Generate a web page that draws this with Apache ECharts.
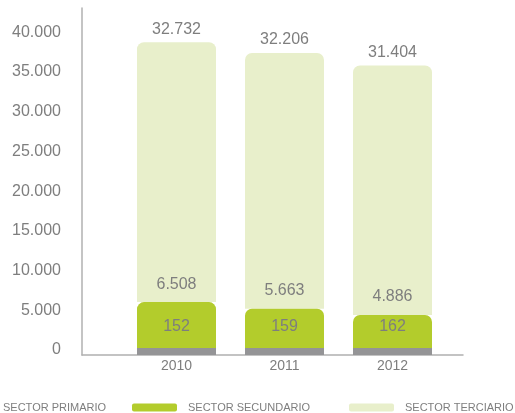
<!DOCTYPE html>
<html>
<head>
<meta charset="utf-8">
<script src="https://cdn.jsdelivr.net/npm/echarts@6/dist/echarts.min.js"></script>
<style>
  html, body { margin: 0; padding: 0; background: #fff; }
  #chart { width: 515px; height: 413px; }
</style>
</head>
<body>
<div id="chart"></div>
<script>
// datos por sector
var years = ["2010", "2011", "2012"];
var primario = [152, 159, 162];
var secundario = [6508, 5663, 4886];
var terciario = [32732, 32206, 31404];
var yTicks = [0, 5000, 10000, 15000, 20000, 25000, 30000, 35000, 40000];

var textColor = "#7e7e7e";
var axisColor = "#b0b0b0";
var font = "'Liberation Sans', Arial, sans-serif";

function fmt(v) {
  return String(v).replace(/\B(?=(\d{3})+(?!\d))/g, ".");
}

function barLabel(dist) {
  return {
    show: true,
    position: "top",
    distance: dist,
    color: textColor,
    fontFamily: font,
    fontSize: 16,
    formatter: function (p) { return fmt(p.value); }
  };
}

function legendAt(left, name, hideIcon) {
  return {
    left: left,
    top: 402,
    padding: 0,
    itemWidth: 45,
    itemHeight: 8,
    textStyle: { color: textColor, fontFamily: font, fontSize: 11, padding: [0, 0, 0, 6] },
    data: [hideIcon ? { name: name, itemStyle: { opacity: 0 } } : name]
  };
}

var myChart = echarts.init(document.getElementById("chart"));
var option = {
  animation: false,
  grid: [
    // barras
    { left: 122.5, right: 68.5, top: 8, bottom: 58 },
    // ejes
    { left: 82, right: 52, top: 8, bottom: 58 }
  ],
  xAxis: [
    {
      gridIndex: 0,
      type: "category",
      data: years,
      axisLine: { show: false },
      axisTick: { show: false },
      axisLabel: { color: textColor, fontFamily: font, fontSize: 14, margin: 4 }
    },
    {
      gridIndex: 1,
      type: "value",
      min: 0,
      max: 1,
      axisLine: { show: true, lineStyle: { color: axisColor, width: 1.5 } },
      axisTick: { show: false },
      axisLabel: { show: false },
      splitLine: { show: false }
    }
  ],
  yAxis: [
    {
      gridIndex: 0,
      type: "value",
      min: 0,
      max: 43700,
      show: false
    },
    {
      gridIndex: 1,
      type: "value",
      min: 0,
      max: 43700,
      splitLine: { show: false },
      axisTick: { show: false },
      axisLine: { show: true, lineStyle: { color: axisColor, width: 1.5 } },
      axisLabel: {
        customValues: yTicks,
        formatter: fmt,
        color: textColor,
        fontFamily: font,
        fontSize: 16,
        margin: 21,
        verticalAlign: "bottom",
        lineHeight: 10
      }
    }
  ],
  legend: [
    legendAt(-53, "SECTOR PRIMARIO", true),
    legendAt(132, "SECTOR SECUNDARIO", false),
    legendAt(349, "SECTOR TERCIARIO", false)
  ],
  series: [
    {
      name: "SECTOR PRIMARIO",
      type: "bar",
      stack: "total",
      barWidth: 79,
      barMinHeight: 7,
      z: 3,
      itemStyle: { color: "#949496" },
      label: barLabel(13),
      data: primario
    },
    {
      name: "SECTOR SECUNDARIO",
      type: "bar",
      stack: "total",
      barWidth: 79,
      z: 2,
      itemStyle: { color: "#b3cc2c", borderRadius: [7, 7, 0, 0] },
      label: barLabel(10),
      data: secundario
    },
    {
      name: "SECTOR TERCIARIO",
      type: "bar",
      stack: "total",
      barWidth: 79,
      z: 1,
      itemStyle: { color: "#e8efcb", borderRadius: [7, 7, 0, 0] },
      label: barLabel(5),
      data: terciario
    }
  ]
};
myChart.setOption(option);
</script>
</body>
</html>
